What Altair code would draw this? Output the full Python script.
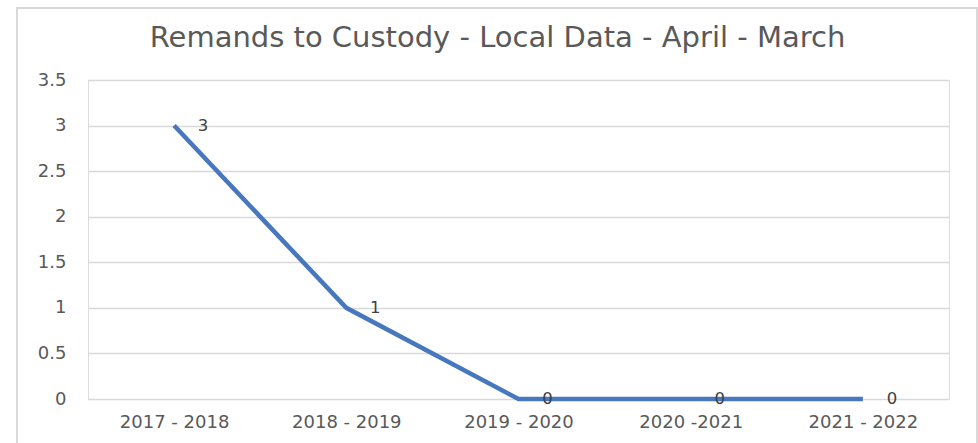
import altair as alt
import pandas as pd

years = ["2017 - 2018", "2018 - 2019", "2019 - 2020", "2020 -2021", "2021 - 2022"]
remands = [3, 1, 0, 0, 0]
y_ticks = [0, 0.5, 1, 1.5, 2, 2.5, 3, 3.5]

df = pd.DataFrame({"year": years, "remands": remands})

FONT = "DejaVu Sans"

x = alt.X("year:N", sort=years, title=None,
          scale=alt.Scale(padding=0.5),
          axis=alt.Axis(labelAngle=0, labelFont=FONT, labelFontSize=18,
                        labelColor="#595959", ticks=False, domain=False,
                        grid=False, labelPadding=14))
y = alt.Y("remands:Q", title=None,
          scale=alt.Scale(domain=[0, 3.5], nice=False),
          axis=alt.Axis(values=y_ticks, format="~g", labelFont=FONT,
                        labelFontSize=18, labelColor="#595959", ticks=False,
                        domain=False, gridColor="#d9d9d9", gridWidth=1.5,
                        labelPadding=22))

border = alt.Chart(df).mark_rect(fill=None, stroke="#d9d9d9", strokeWidth=2).encode(
    x=alt.value(-71), x2=alt.value(889), y=alt.value(-72), y2=alt.value(380)
)

line = alt.Chart(df).mark_line(color="#4677BF", strokeWidth=4.5).encode(x=x, y=y)

labels = alt.Chart(df).mark_text(dx=29, font=FONT, fontSize=16.5, color="#404040").encode(
    x=x, y=y, text=alt.Text("remands:Q")
)

chart = alt.layer(border, line, labels).properties(
    width=861, height=319,
    title=alt.TitleParams("Remands to Custody - Local Data - April - March",
                          font=FONT, fontSize=29, fontWeight="normal",
                          color="#595959", anchor="middle", dx=-21,
                          baseline="alphabetic", offset=-69),
    autosize=alt.AutoSizeParams(type="none"),
    padding={"left": 88, "top": 80, "right": 29, "bottom": 44},
).configure_view(stroke=None).configure(background="white")

chart.save("out.html", embed_options={"renderer": "svg", "actions": False})
